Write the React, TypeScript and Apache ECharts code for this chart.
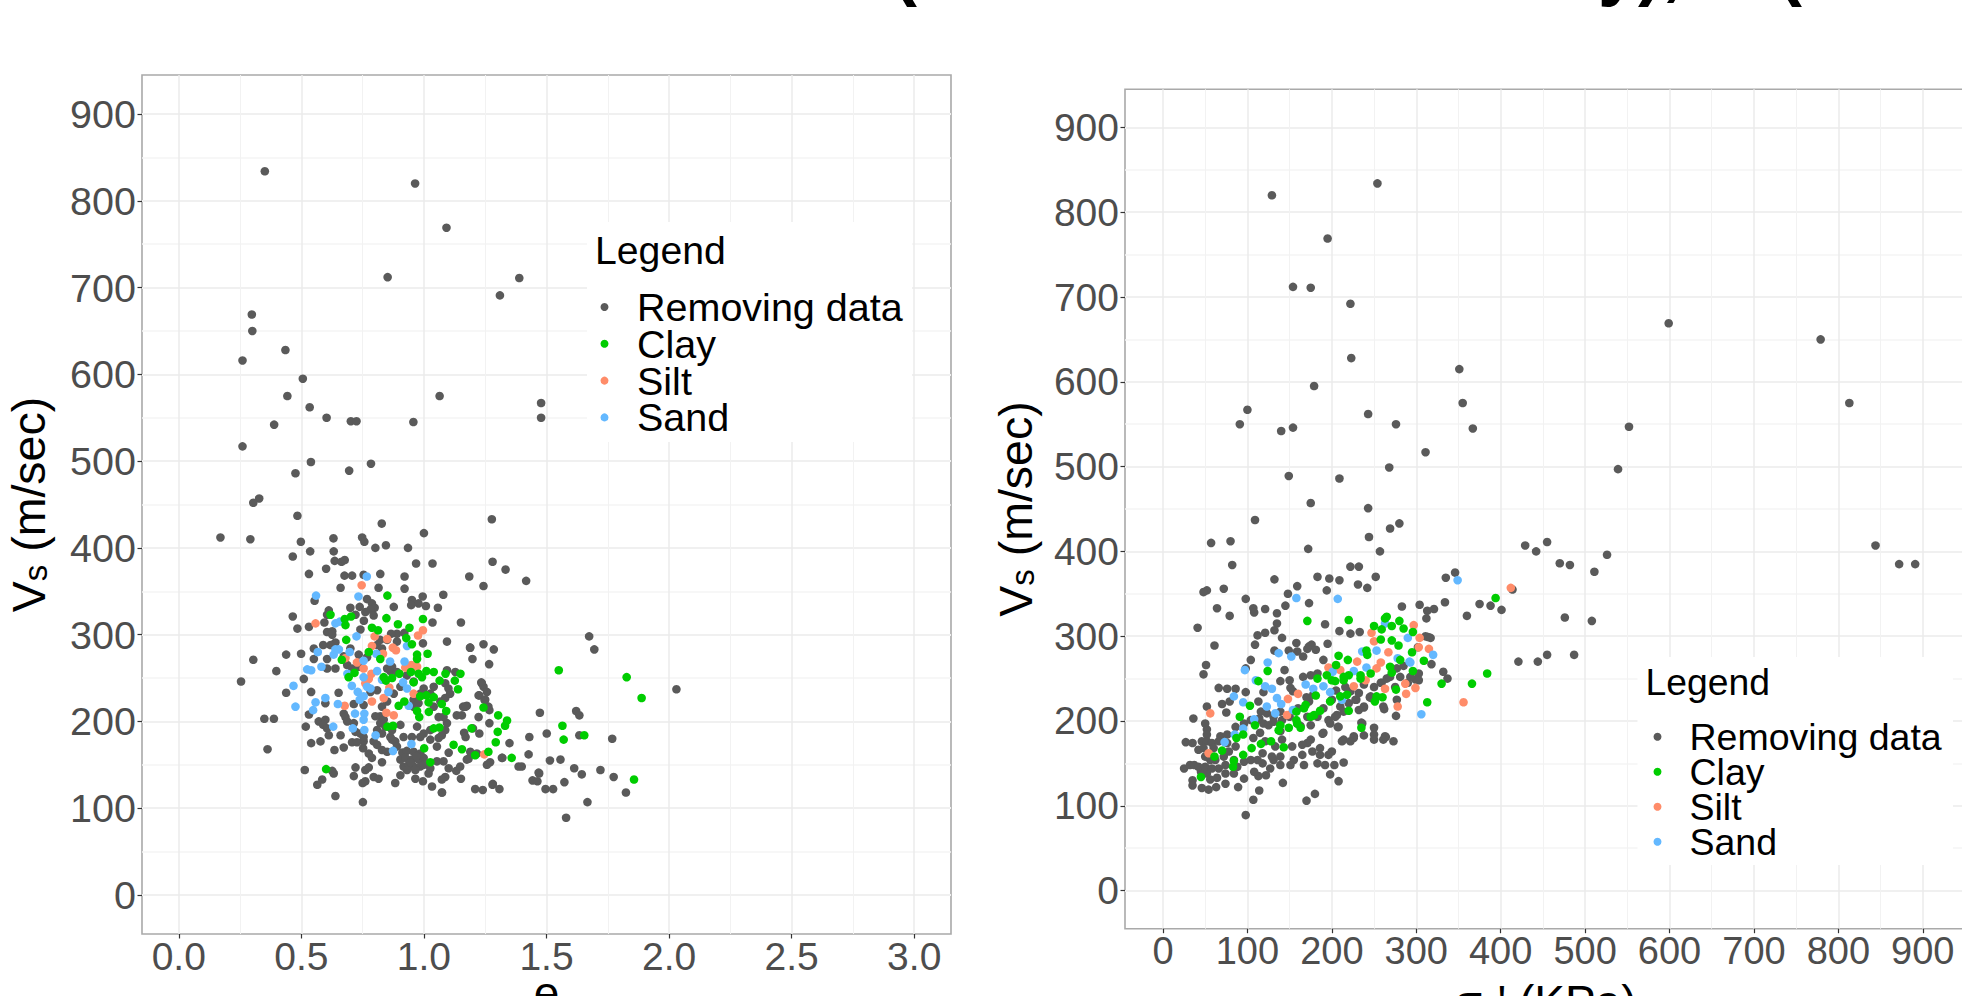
import React, { useEffect, useRef } from "react";
import * as echarts from "echarts";

const legendNames = ["Removing data", "Clay", "Silt", "Sand"];
const pointColors = ["#5A5A5A", "#00CD00", "#FF8C69", "#63B8FF"];
const xTicksE = [0, 0.5, 1, 1.5, 2, 2.5, 3];
const xMinorE = [0.25, 0.75, 1.25, 1.75, 2.25, 2.75];
const ticksVs = [0, 100, 200, 300, 400, 500, 600, 700, 800, 900];
const minorVs = [50, 150, 250, 350, 450, 550, 650, 750, 850];
const xTicksStress = [0, 100, 200, 300, 400, 500, 600, 700, 800, 900];
const xMinorStress = [50, 150, 250, 350, 450, 550, 650, 750, 850];

// e, Vs
const eRemoving = [
[.351,834],[.964,820],[1.092,769],[.852,712],[1.389,711],[1.31,691],[.298,669],[.3,650],[.435,628],[.26,616],[.506,595],[.443,575],[1.064,575],[1.478,567],[.534,562],[.603,550],[1.478,550],[.702,546],[.725,546],[.957,545],[.389,542],[.26,517],[.539,499],[.784,497],[.476,486],[.695,489],
[.328,457],[.304,452],[.484,437],[.828,428],[1.277,433],[1,417],[.17,412],[.292,410],[.498,407],[.631,411],[.748,412],[.757,407],[.845,403],[.802,400],[.935,400],[.465,390],[.536,396],[.632,396],[.636,385],[.664,384],[.677,386],[.968,382],[1.035,382],[1.28,384],[.601,376],[1.333,375],[.531,370],[.676,368],[.707,368],[.754,369],[.822,370],[.921,367],[1.185,367],[1.417,362],
[1.243,356],[.66,354],[.815,354],[.921,353],[1.079,346],[.995,344],[.554,339],[.951,340],[.978,336],[1.008,333],[1.057,331],[.948,334],[.738,332],[.768,341],[.788,336],[.799,331],[.782,329],[.761,326],[.795,322],[.755,316],[.721,323],[.7,331],[.877,332],[.612,328],[.605,323],[.594,314],[.465,321],[.484,307],[.531,309],[1.151,314],[1.035,314],[.605,303],[.626,304],[.626,300],[.741,306],[.639,291],[.619,288],[.589,288],[.438,277],[.499,278],[.304,271],[.551,284],[1.094,292],[.996,290],[1.189,285],[1.243,289],[1.285,283],[1.198,272],[1.266,266],
[.92,302],[.89,301],[.866,301],[.89,292],[.85,294],[.822,294],[.809,288],[.829,284],[.7,284],[.734,277],[.673,275],[.605,272],[.551,272],[.639,261],[.605,261],[.687,265],[.707,261],[.768,274],[.734,263],[.85,261],[.863,258],[.87,263],[.89,257],[.93,253],[.958,246],[.999,238],[1.04,240],[1.026,232],[1.094,259],[1.087,244],[1.1,238],[1.107,232],[1.087,227],[1.067,223],[1.128,257],[1.236,244],[1.243,240],[1.223,230],[1.25,225],[1.263,217],[1.175,218],[1.16,217],[1.134,207],[1.155,207],[1.223,205],[1.164,187],
[.398,258],[.51,249],[.254,246],[.438,233],[.54,234],[.652,233],[.598,221],[.531,208],[.349,203],[.388,203],[.518,194],[.362,168],[.514,144],
[.714,220],[.673,209],[.754,219],[.829,217],[.85,223],[.782,234],[.809,236],[.877,232],[.904,240],[.958,217],[.985,232],[.958,225],[.978,221],[1.04,217],[1.06,205],[1.094,198],[1.08,205],[1.087,190],[.822,206],[.822,198],[.836,202],[.802,206],[.843,194],[.809,190],[.829,186],[.863,182],[.87,190],[.883,177],[.904,196],[.917,182],[.951,182],[.985,182],[.999,186],[1.026,179],[1.06,181],[1.053,171],[1.073,184],[1.026,190],[.972,194],
[.571,200],[.598,202],[.589,196],[.605,192],[.612,184],[.66,184],[.578,177],[.54,175],[.635,167],[.673,170],[.68,205],[.687,200],[.714,198],[.721,188],[.741,186],[.754,177],[.707,176],[.727,176],[.754,182],[.752,169],[.775,163],[.788,158],[.795,177],[.809,173],[.829,167],[.85,165],[.87,179],[.89,171],[.829,153],[.721,147],[.714,137],[.761,144],[.775,147],[.75,129],[.761,131],[.795,136],[.815,134],[.565,127],[.585,133],[.632,140],[.626,143],[.639,114],[.751,107],
[.912,164],[.93,166],[.958,165],[.985,163],[.904,156],[.925,158],[.951,156],[.978,156],[.999,158],[.917,148],[.938,150],[.958,148],[.985,148],[.931,144],[.965,144],[.945,153],[.97,160],[1.0,150],
[.883,129],[.904,138],[.965,134],[.996,131],[1.033,125],[1.073,118],[1.087,136],[1.073,133],[1.053,154],[1.08,154],[1.101,164],[1.101,146],[1.132,143],[1.148,148],[1.151,134],[1.182,157],[1.216,163],[1.209,122],[1.24,121],[1.281,128],[1.308,122],[1.257,150],[1.27,153],[1.32,158],[1.349,175],[1.386,148],[1.189,165],[1.175,156],[1.026,146],[1.019,140],
[1.674,298],[1.695,283],[2.03,237],[1.473,210],[1.621,212],[1.634,207],[1.43,182],[1.501,186],[1.634,184],[1.768,180],[1.427,162],[1.399,148],[1.514,155],[1.557,156],[1.613,146],[1.72,144],[1.468,141],[1.47,140],[1.443,132],[1.463,131],[1.644,139],[1.774,136],[1.573,130],[1.496,122],[1.527,122],[1.28,127],[1.824,118],[1.667,107],[1.58,89],[1.074,118],
[1.188,285],[1.234,245],[1.257,234],[1.226,230],[1.247,225],[1.267,213],[1.17,217],[1.267,198],[1.226,186],[1.2,192],[1.17,182],[1.318,158]
];
const eClay = [
[.851,345],[.619,323],[.703,321],[.677,318],[.68,311],[.683,294],[.847,319],[.894,312],[.788,308],[.813,305],[.941,308],[.996,318],[.928,296],[.951,289],[.665,271],[.775,280],[.822,272],[.972,277],[.972,272],[1.015,278],[.693,251],[.717,256],[.87,250],[.836,251],[.845,247],[.9,255],[.947,257],[.978,255],[.992,251],[1.01,258],[1.04,257],[.958,245],[1.064,247],[1.088,255],[1.149,255],[1.126,247],[1.139,237],[.985,229],[1.01,230],[1.04,228],[1.019,222],[1.073,220],[1.091,212],[1.02,211],[.972,212],[.981,205],[.897,218],[.92,223],[.851,194],[.874,195],[1.04,192],[1.063,193],[1.194,192],[1.243,216],[1.303,207],[1.339,201],[1.331,195],[1.301,188],[1.293,176],[1.121,173],[1.155,168],[1.263,165],[1.209,161],[1.001,169],[1.026,153],[1.358,158],[.601,145],[1.55,259],[1.827,251],[1.888,227],[1.565,195],[1.57,179],[1.654,184],[1.857,133]
];
const eSilt = [
[.746,357],[.558,313],[.996,305],[.976,299],[.799,298],[.85,295],[.788,287],[.873,285],[.886,282],[.833,278],[.727,268],[.754,261],[.786,255],[.68,273],[.949,265],[.924,262],[.972,263],[.775,249],[.761,244],[.859,239],[.958,232],[.836,227],[.788,223],[.677,218],[.847,210],[.877,207],[1.246,162]
];
const eSand = [
[.767,367],[.733,344],[.56,345],[.639,313],[.657,315],[.725,298],[.639,283],[.653,283],[.632,277],[.567,280],[.697,280],[.582,263],[.524,260],[.54,259],[.468,241],[.476,217],[.598,227],[.558,222],[.548,213],[.649,220],[.63,194],[.688,255],[.754,251],[.754,270],[.806,278],[.809,258],[.862,269],[.921,269],[.931,287],[.829,248],[.706,241],[.73,234],[.768,240],[.782,238],[.754,229],[.738,225],[.855,234],[.915,245],[.931,238],[.938,218],[.719,209],[.757,209],[.754,202],[.71,192],[.757,190],[.803,184],[.949,174],[.874,166]
];

// sigma'v, Vs
const stressRemoving = [
[254,834],[129,820],[195,769],[154,712],[175,711],[222,692],[599,669],[779,650],[223,628],[351,615],[179,595],[355,575],[813,575],[100,567],[243,562],[91,550],[276,550],[154,546],[367,545],[552,547],[140,542],[311,517],[268,499],[539,497],[149,489],[209,486],
[175,457],[243,451],[109,437],[280,433],[269,427],[244,417],[455,411],[80,412],[57,410],[429,407],[844,407],[442,400],[172,403],[257,400],[526,396],[82,384],[470,386],[482,384],[872,385],[891,385],[511,376],[222,382],[232,382],[346,375],[335,369],[183,370],[197,368],[209,366],[252,370],[132,367],[231,361],[159,359],[242,357],[194,354],[414,355],[72,356],[52,354],[48,352],[148,350],[98,344],[334,340],[173,339],[145,336],[283,335],[304,337],[375,338],[388,336],[64,333],[121,332],[107,333],[108,328],[401,331],[321,332],[313,330],[135,327],[79,324],[360,324],[476,322],[508,318],[312,321],[135,315],[192,314],[41,310],[132,307],[209,306],[222,303],[233,305],[112,301],[121,304],[141,298],[314,299],[61,289],[109,290],[158,292],[195,291],[173,288],[176,290],[302,287],[132,283],[104,272],[421,270],[444,270],[455,278],[487,278],[51,266],[98,262],[144,260],[48,255],[332,258],[337,250],[299,249],
[318,267],[311,300],[317,298],[303,256],[303,248],[276,206],[262,214],[238,216],[229,225],[245,228],[259,245],[265,250],[281,252],[285,265],[277,262],[235,198],[250,184],[238,183],[226,182],[214,178],[207,193],[189,185],[264,181],
[171,285],[181,284],[166,276],[159,282],[149,283],[190,272],[66,239],[76,238],[86,238],[98,234],[70,220],[79,223],[75,210],[52,217],[36,203],[139,247],[150,248],[166,252],[175,254],[183,256],[151,239],[154,235],[119,234],[113,223],[178,231],
[27,175],[35,174],[52,190],[50,197],[52,184],[46,176],[52,176],[58,174],[42,166],[48,168],[60,168],[68,182],[76,184],[86,193],[96,197],[104,201],[114,203],[123,209],[131,205],[141,201],[149,207],[159,197],[119,197],[131,199],[125,195],[112,201],[116,211],[139,211],[171,205],[183,205],[196,201],[206,207],[210,217],[220,221],[228,225],[238,217],[246,229],
[190,186],[208,193],[236,197],[250,192],[250,178],[263,182],[261,178],[273,176],[226,180],[222,176],[212,176],[200,164],[196,160],[186,168],[186,160],[177,164],[175,178],[171,174],[165,172],[165,160],[153,170],[155,154],[151,148],[167,148],[183,150],[192,148],[203,148],[214,151],[198,137],[208,129],[170,106],[180,114],[142,127],[114,118],[107,107],[98,89],[89,122],[96,132],[122,136],[113,135],[108,140],[127,144],[131,154],[139,158],[139,148],
[25,144],[32,148],[37,148],[35,130],[35,124],[46,121],[54,119],[63,122],[74,126],[56,131],[64,133],[74,138],[52,138],[45,140],[42,146],[50,146],[58,144],[66,144],[74,148],[84,138],[88,146],[96,152],[104,154],[112,154],[118,150],[118,162],[129,158],[84,154],[72,158],[62,154],[56,154],[50,158],[78,164],[86,170],[76,174],[66,176],
[115,186],[107,180],[121,176],[133,170],[141,178],[163,194],[139,188],[175,195],[198,197],[204,205],[214,211],[232,213],[173,223],[222,235],[232,233],[247,227],[261,217],[277,225],[293,252],[269,252],[258,245],[200,225],[190,215],[160,215],[170,228],[150,205],[238,243],[250,240],[216,240],[205,236],[275,240],[290,245]
];
const stressClay = [
[171,318],[220,319],[124,259],[113,247],[103,218],[91,205],[109,195],[95,184],[87,180],[70,165],[61,158],[95,160],[105,168],[116,173],[128,176],[143,169],[84,153],[83,146],[45,134],[139,195],[137,189],[149,192],[158,201],[163,192],[159,197],[158,211],[169,219],[167,215],[175,205],[179,207],[186,212],[198,223],[210,229],[218,231],[220,212],[235,192],[251,223],[253,229],[260,228],[183,250],[194,254],[200,248],[204,247],[214,248],[220,254],[214,252],[234,250],[234,254],[246,256],[208,277],[205,266],[219,272],[242,278],[241,283],[258,296],[250,312],[259,308],[263,321],[265,323],[271,312],[280,318],[285,309],[271,295],[279,289],[296,305],[295,281],[281,272],[296,259],[269,264],[271,257],[276,237],[313,222],[309,271],[181,230],[394,345],[384,256],[366,244],[330,244]
];
const stressSilt = [
[56,209],[54,162],[148,226],[160,232],[147,207],[226,241],[263,238],[278,217],[287,244],[288,232],[299,239],[303,287],[304,298],[297,313],[247,304],[250,294],[267,281],[258,269],[253,262],[210,260],[196,263],[230,270],[240,248],[315,285],[412,357],[356,222]
];
const stressSand = [
[158,345],[207,344],[97,260],[124,269],[137,280],[152,276],[110,248],[121,241],[129,238],[84,229],[95,222],[135,227],[140,220],[123,217],[133,209],[108,202],[95,191],[85,184],[73,175],[154,213],[169,243],[178,238],[190,241],[198,234],[201,258],[226,259],[241,263],[236,282],[253,283],[278,274],[293,269],[290,298],[263,315],[306,208],[212,225],[349,366],[320,278],[292,270]
];

const sansFamily = "Liberation Sans";
const leftFrame = { left: 142, top: 75, width: 809, height: 859 };
const rightFrame = { left: 1125, top: 89.3, width: 840, height: 839.4 };

const axisCommon = {
  type: "value",
  axisLine: { show: false, onZero: false },
  axisTick: { length: 4.5, lineStyle: { color: "#333333", width: 1.2 } },
  splitArea: { show: false },
};
const majorH = { show: true, lineStyle: { color: "#F0F0F0", width: 2.2 } };
const majorV = { show: true, lineStyle: { color: "#EBEBEB", width: 1.5 } };
const minorH = { show: true, lineStyle: { color: "#F5F5F5", width: 1.5 } };
const minorV = { show: true, lineStyle: { color: "#F2F2F2", width: 1 } };

function mainAxis(grid: number, min: number, max: number, ticks: number[], fs: number, margin: number, fmt: (v: number) => string, split: any, name?: any) {
  return {
    ...axisCommon,
    gridIndex: grid,
    min,
    max,
    ...(name || {}),
    axisTick: { ...axisCommon.axisTick, customValues: ticks },
    axisLabel: { customValues: ticks, margin, fontSize: fs, color: "#4D4D4D", fontFamily: sansFamily, formatter: fmt, hideOverlap: false },
    splitLine: split,
  };
}
function minorAxis(grid: number, min: number, max: number, ticks: number[], split: any) {
  return {
    type: "value",
    gridIndex: grid,
    min,
    max,
    axisLine: { show: false, onZero: false },
    axisTick: { show: false, customValues: ticks },
    axisLabel: { show: false, customValues: ticks },
    splitLine: split,
  };
}
const intLabel = (v: number) => String(v);
const decLabel = (v: number) => v.toFixed(1);

function vsName(gap: number, big: number, small: number) {
  return {
    name: "{v|V}{s|s}{v| (m/sec)}",
    nameLocation: "middle",
    nameGap: gap,
    nameRotate: 90,
    nameTextStyle: {
      rich: {
        v: { fontSize: big, fontFamily: sansFamily, color: "#000000", lineHeight: big + 12, verticalAlign: "bottom" },
        s: { fontSize: small, fontFamily: sansFamily, color: "#000000", lineHeight: small, verticalAlign: "bottom" },
      },
    },
  };
}

function scatter(name: string, color: string, data: number[][], axisIdx: number) {
  return {
    type: "scatter",
    name,
    data,
    xAxisIndex: axisIdx,
    yAxisIndex: axisIdx,
    symbol: "circle",
    symbolSize: 8.6,
    itemStyle: { color, opacity: 1 },
    z: 3,
    silent: true,
  };
}

function legendBox(left: number, right: number, top: number, bottom: number) {
  return { type: "rect", z: 1, silent: true, shape: { x: left, y: top, width: right - left, height: bottom - top }, style: { fill: "#FFFFFF" } };
}
function legendTitle(x: number, y: number, fs: number) {
  return { type: "text", z: 5, silent: true, x, y, style: { text: "Legend", fontSize: fs, fontFamily: sansFamily, fill: "#000000", textVerticalAlign: "middle" } };
}
function legendItems(left: number, top: number, fs: number, keyW: number, gap: number) {
  return {
    data: legendNames,
    orient: "vertical",
    left,
    top,
    padding: 0,
    itemWidth: keyW,
    itemHeight: 8,
    itemGap: gap,
    icon: "circle",
    selectedMode: false,
    textStyle: { fontSize: fs, fontFamily: sansFamily, color: "#000000", lineHeight: 30 },
  };
}
function cutTitle(x: number, text: string) {
  return { type: "text", z: 5, silent: true, x, y: -33, style: { text, fontSize: 72, fontWeight: "bold", fontFamily: sansFamily, fill: "#000000", textVerticalAlign: "middle" } };
}

export default function App() {
  const ref = useRef<HTMLDivElement>(null);
  useEffect(() => {
    document.body.style.margin = "0";
    const chart = echarts.init(ref.current!, undefined, { renderer: "svg" });
    const gridBorder = { show: true, borderColor: "#A9A9A9", borderWidth: 1.6, outerBoundsMode: "none", containLabel: false, backgroundColor: "transparent" };
    chart.setOption({
      animation: false,
      backgroundColor: "#FFFFFF",
      grid: [
        { ...gridBorder, ...leftFrame },
        { ...gridBorder, ...rightFrame },
      ],
      xAxis: [
        mainAxis(0, -0.15, 3.15, xTicksE, 39, 3, decLabel, majorV, { name: "e", nameLocation: "middle", nameGap: 36, nameMoveOverlap: false, nameTextStyle: { fontSize: 46, fontFamily: sansFamily, color: "#000000" } }),
        mainAxis(1, -45, 950, xTicksStress, 38, 3, intLabel, majorV, {
          name: "{a|σ}{b|v}{a|' (KPa)}",
          nameLocation: "middle",
          nameGap: 44,
          nameMoveOverlap: false,
          nameTextStyle: {
            rich: {
              a: { fontSize: 46, fontFamily: sansFamily, color: "#000000", lineHeight: 52, verticalAlign: "bottom" },
              b: { fontSize: 31, fontFamily: sansFamily, color: "#000000", lineHeight: 31, verticalAlign: "bottom" },
            },
          },
        }),
        minorAxis(0, -0.15, 3.15, xMinorE, minorV),
        minorAxis(1, -45, 950, xMinorStress, minorV),
      ],
      yAxis: [
        mainAxis(0, -45, 945, ticksVs, 39.5, 6, intLabel, majorH, { ...vsName(90, 46.5, 33), nameMoveOverlap: false }),
        mainAxis(1, -45, 945, ticksVs, 39, 6, intLabel, majorH, { ...vsName(86, 46.5, 33), nameMoveOverlap: false }),
        minorAxis(0, -45, 945, minorVs, minorH),
        minorAxis(1, -45, 945, minorVs, minorH),
      ],
      legend: [legendItems(600.5, 287, 39.5, 55, -3.2), legendItems(1653.5, 717.7, 37.5, 54, -3)],
      graphic: [
        legendBox(587, 912, 222, 442),
        legendBox(1637.5, 1953, 657, 865),
        legendTitle(595, 250, 39.2),
        legendTitle(1645.6, 682, 37.3),
        cutTitle(893, "("),
        cutTitle(1598, "y),"),
        cutTitle(1778, "("),
      ],
      series: [
        scatter(legendNames[0], pointColors[0], eRemoving, 0),
        scatter(legendNames[2], pointColors[2], eSilt, 0),
        scatter(legendNames[3], pointColors[3], eSand, 0),
        scatter(legendNames[1], pointColors[1], eClay, 0),
        scatter(legendNames[0], pointColors[0], stressRemoving, 1),
        scatter(legendNames[2], pointColors[2], stressSilt, 1),
        scatter(legendNames[3], pointColors[3], stressSand, 1),
        scatter(legendNames[1], pointColors[1], stressClay, 1),
      ],
    });
    return () => chart.dispose();
  }, []);
  return <div ref={ref} style={{ position: "fixed", left: 0, top: 0, width: 1962, height: 996 }} />;
}
